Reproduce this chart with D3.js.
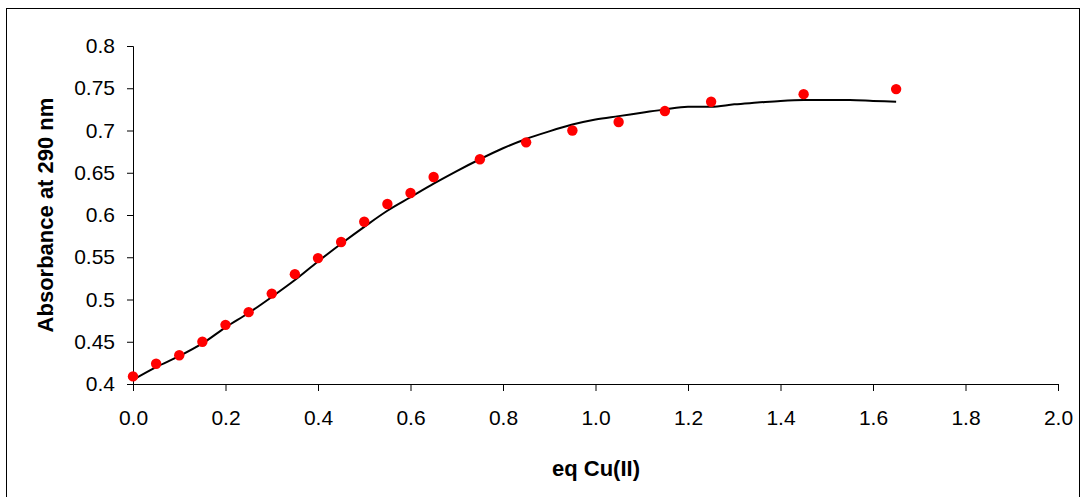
<!DOCTYPE html>
<html>
<head>
<meta charset="utf-8">
<script src="https://cdn.jsdelivr.net/npm/d3@7"></script>
<style>
  body { margin: 0; background: #fff; }
  svg text { font-family: "Liberation Sans", Arial, sans-serif; }
</style>
</head>
<body>
<div id="chart"></div>
<script>
var width = 1083,
    height = 497;

// measured points (red dots)
var eqMeasured = [0, 0.05, 0.1, 0.15, 0.2, 0.25, 0.3, 0.35, 0.4, 0.45, 0.5, 0.55, 0.6, 0.65,
                  0.75, 0.85, 0.95, 1.05, 1.15, 1.25, 1.45, 1.65];
var absMeasured = [0.409, 0.424, 0.434, 0.450, 0.470, 0.485, 0.507, 0.530, 0.549, 0.568, 0.592, 0.613, 0.626, 0.645,
                   0.666, 0.686, 0.700, 0.710, 0.723, 0.734, 0.743, 0.749];

// fitted curve
var eqFit = [0, 0.05, 0.1, 0.15, 0.2, 0.25, 0.3, 0.35, 0.4, 0.45, 0.5, 0.55, 0.6, 0.65, 0.7, 0.75, 0.8,
             0.85, 0.9, 0.95, 1.0, 1.05, 1.1, 1.15, 1.2, 1.25, 1.3, 1.35, 1.4, 1.45, 1.5, 1.55, 1.6, 1.65];
var absFit = [0.405, 0.420, 0.433, 0.448, 0.467, 0.484, 0.503, 0.523, 0.545, 0.566, 0.586, 0.605, 0.621, 0.637, 0.652, 0.666, 0.679,
              0.690, 0.699, 0.707, 0.713, 0.717, 0.721, 0.725, 0.728, 0.728, 0.731, 0.733, 0.735, 0.736, 0.736, 0.736, 0.735, 0.734];

var xTicks = [0, 0.2, 0.4, 0.6, 0.8, 1.0, 1.2, 1.4, 1.6, 1.8, 2.0];
var yTicks = [0.4, 0.45, 0.5, 0.55, 0.6, 0.65, 0.7, 0.75, 0.8];

var plotLeft = 133, plotRight = 1058, plotTop = 46, plotBottom = 384;

var svg = d3.select('#chart').append('svg')
    .attr('width', width)
    .attr('height', height);

// outer frame
svg.append('rect')
    .attr('x', 6.5).attr('y', 8.5)
    .attr('width', 1073).attr('height', 495)
    .attr('fill', 'none')
    .attr('stroke', '#000')
    .attr('stroke-width', 1);

var x = d3.scaleLinear().domain([0, 2]).range([plotLeft, plotRight]);
var y = d3.scaleLinear().domain([0.4, 0.8]).range([plotBottom, plotTop]);

svg.append('g')
    .attr('transform', 'translate(0,' + plotBottom + ')')
    .call(d3.axisBottom(x).tickValues(xTicks).tickFormat(d3.format('.1f')).tickSizeOuter(0).tickSize(7).tickPadding(19));

svg.append('g')
    .attr('transform', 'translate(' + plotLeft + ',0)')
    .call(d3.axisLeft(y).tickValues(yTicks).tickFormat(function (d) { return String(+d.toFixed(2)); }).tickSizeOuter(0).tickSize(6).tickPadding(12));

svg.selectAll('.tick text')
    .attr('font-size', 21)
    .attr('fill', '#000');
svg.selectAll('.domain, .tick line')
    .attr('stroke', '#000');

// fit line
var line = d3.line()
    .x(function (d, i) { return x(eqFit[i]); })
    .y(function (d) { return y(d); })
    .curve(d3.curveMonotoneX);

svg.append('path')
    .datum(absFit)
    .attr('d', line)
    .attr('fill', 'none')
    .attr('stroke', '#000')
    .attr('stroke-width', 2);

// data points
svg.selectAll('circle.pt').data(absMeasured)
  .enter().append('circle')
    .attr('class', 'pt')
    .attr('cx', function (d, i) { return x(eqMeasured[i]); })
    .attr('cy', function (d) { return y(d); })
    .attr('r', 5.2)
    .attr('fill', '#ff0000');

// axis titles
svg.append('text')
    .attr('x', 596)
    .attr('y', 476)
    .attr('text-anchor', 'middle')
    .attr('font-size', 22)
    .attr('font-weight', 'bold')
    .text('eq Cu(II)');

svg.append('text')
    .attr('transform', 'translate(53,' + (plotTop + plotBottom) / 2 + ') rotate(-90)')
    .attr('text-anchor', 'middle')
    .attr('font-size', 22)
    .attr('font-weight', 'bold')
    .text('Absorbance at 290 nm');
</script>
</body>
</html>
